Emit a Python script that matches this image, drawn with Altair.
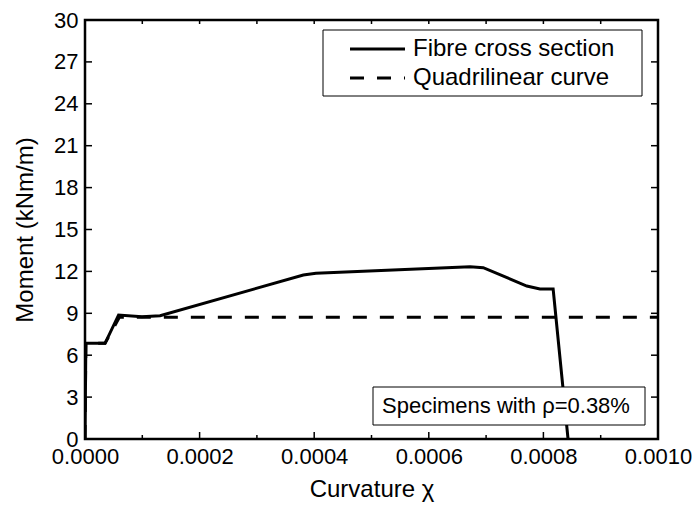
import altair as alt
import pandas as pd

# ---- data ----
fibre_x = [0.0, 0.0000015, 0.000035, 0.0000586, 0.0000994, 0.000131, 0.000381,
           0.000403, 0.000672, 0.000695, 0.000771, 0.000794, 0.000817, 0.000843]
fibre_y = [0.0, 6.85, 6.85, 8.88, 8.76, 8.83, 11.74,
           11.86, 12.33, 12.27, 10.95, 10.74, 10.74, 0.0]

quad_x = [0.0, 0.0000015, 0.000035, 0.00006, 0.001]
quad_y = [0.0, 6.85, 6.85, 8.71, 8.71]

x_major = [0.0, 0.0002, 0.0004, 0.0006, 0.0008, 0.001]
x_minor = [0.0001, 0.0003, 0.0005, 0.0007, 0.0009]
y_major = [0, 3, 6, 9, 12, 15, 18, 21, 24, 27, 30]

legend_labels = ["Fibre cross section", "Quadrilinear curve"]
note_text = "Specimens with \u03c1=0.38%"
x_title = "Curvature \u03c7"
y_title = "Moment (kNm/m)"

W, H = 573, 419
FONT = "Liberation Sans"
FS = 22
FS_TITLE = 24
FS_LEG = 24

fibre = pd.DataFrame({"x": fibre_x, "y": fibre_y})
quad = pd.DataFrame({"x": quad_x, "y": quad_y})

xscale = alt.Scale(domain=[0, 0.001], nice=False, zero=False)
yscale = alt.Scale(domain=[0, 30], nice=False, zero=False)

xaxis = alt.Axis(values=x_major, format=".4f", title=x_title, ticks=False, domain=False,
                 grid=False, labelPadding=7, titlePadding=10, labelFlush=False)
yaxis = alt.Axis(values=y_major, format="d", title=y_title, ticks=False, domain=False,
                 grid=False, labelPadding=7, titlePadding=16)

solid = alt.Chart(fibre).mark_line(color="black", strokeWidth=3, clip=True).encode(
    x=alt.X("x:Q", scale=xscale, axis=xaxis),
    y=alt.Y("y:Q", scale=yscale, axis=yaxis),
    order=alt.Order("idx:Q"),
).transform_window(idx="row_number()")

dashed = alt.Chart(quad).mark_line(color="black", strokeWidth=3, strokeDash=[14, 13], clip=True).encode(
    x="x:Q", y="y:Q",
)

# inward ticks
def xticks(vals, y0, y1):
    return alt.Chart(pd.DataFrame({"x": vals})).mark_rule(color="black", strokeWidth=1.5).encode(
        x="x:Q", y=alt.value(y0), y2=alt.value(y1))

def yticks(vals, x0, x1):
    return alt.Chart(pd.DataFrame({"y": vals})).mark_rule(color="black", strokeWidth=1.5).encode(
        y="y:Q", x=alt.value(x0), x2=alt.value(x1))

ticks = [
    xticks(x_major, H, H - 7),
    xticks(x_minor, H, H - 4),
    xticks(x_major, 0, 4),
    xticks(x_minor, 0, 4),
    yticks(y_major, 0, 7),
    yticks(y_major, W, W - 7),
]

# legend box (manual)
one = pd.DataFrame({"k": [0]})
leg_box = alt.Chart(one).mark_rect(fill="white", stroke="black", strokeWidth=1).encode(
    x=alt.value(238), x2=alt.value(557), y=alt.value(10), y2=alt.value(76))
leg_solid = alt.Chart(one).mark_rule(color="black", strokeWidth=3).encode(
    x=alt.value(265), x2=alt.value(320), y=alt.value(29))
leg_dash = alt.Chart(one).mark_rule(color="black", strokeWidth=3, strokeDash=[14, 13]).encode(
    x=alt.value(265), x2=alt.value(320), y=alt.value(58))
leg_t1 = alt.Chart(pd.DataFrame({"t": [legend_labels[0]]})).mark_text(
    font=FONT, fontSize=FS_LEG, align="left", baseline="middle", color="black").encode(
    text="t:N", x=alt.value(328), y=alt.value(29))
leg_t2 = alt.Chart(pd.DataFrame({"t": [legend_labels[1]]})).mark_text(
    font=FONT, fontSize=FS_LEG, align="left", baseline="middle", color="black").encode(
    text="t:N", x=alt.value(328), y=alt.value(58))

note_box = alt.Chart(one).mark_rect(fill="white", stroke="black", strokeWidth=1).encode(
    x=alt.value(288), x2=alt.value(560), y=alt.value(367), y2=alt.value(405))
note_t = alt.Chart(pd.DataFrame({"t": [note_text]})).mark_text(
    font=FONT, fontSize=FS, align="left", baseline="middle", color="black").encode(
    text="t:N", x=alt.value(297), y=alt.value(386))

chart = alt.layer(
    solid, dashed, *ticks, leg_box, leg_solid, leg_dash, leg_t1, leg_t2, note_box, note_t
).properties(
    width=W, height=H,
    autosize=alt.AutoSizeParams(type="none"),
    padding={"left": 85, "top": 20, "right": 36, "bottom": 67},
    background="white",
).configure_view(
    stroke="black", strokeWidth=2.5
).configure_axis(
    labelFont=FONT, titleFont=FONT, labelFontSize=FS, titleFontSize=FS_TITLE,
    labelColor="black", titleColor="black", titleFontWeight="normal",
)

chart.save("out.html", embed_options={"renderer": "svg", "actions": False})
